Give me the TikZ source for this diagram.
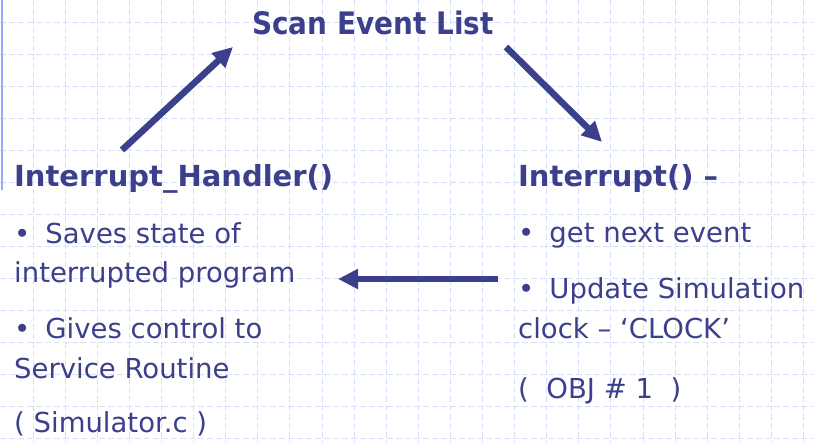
\documentclass[tikz,border=0pt]{standalone}
\usepackage{fontspec}
\setmainfont{DejaVu Sans}
\newfontfamily\titlefont[FakeStretch=0.9]{DejaVu Sans}
\usetikzlibrary{arrows.meta, positioning, calc}

\definecolor{inkblue}{RGB}{60,63,140}
\definecolor{gridblue}{RGB}{214,224,250}
\definecolor{edgeblue}{RGB}{150,170,245}

\begin{document}
\begin{tikzpicture}[
  x=1pt, y=-1pt,
  head/.style ={font=\fontsize{29}{34}\selectfont\bfseries, text=inkblue,
                inner sep=0pt, anchor=base west},
  body/.style ={font=\fontsize{27.5}{39.5}\selectfont, text=inkblue,
                inner sep=0pt, anchor=base west, align=left},
  % connector and background styles ---------------------------------
  flow/.style    ={draw=inkblue, line width=6.5pt,
                   -{Triangle[length=20pt, width=19pt]}},
  gridline/.style={draw=gridblue, line width=0.8pt, dash pattern=on 6pt off 3pt},
]

% =========================== BACKGROUND =============================
\fill[white] (0,0) rectangle (813,443);
\useasboundingbox (0,0) rectangle (813,443);
\foreach \gx in {0,...,24}
  \draw[gridline] ({33+32.1*\gx},0) -- ({33+32.1*\gx},443);
\foreach \gy in {0,...,13}
  \draw[gridline] (0,{22+32*\gy}) -- (813,{22+32*\gy});
\draw[edgeblue, line width=2pt] (1.5,0) -- (1.5,190);

% =========================== HEADINGS ===============================
\node[head, font=\titlefont\fontsize{31}{34}\selectfont\bfseries] (scan) at (252,35) {Scan Event List};
\node[head] (hnd)  at (14,187)  {Interrupt\_Handler()};
\node[head] (intr) at (518,187) {Interrupt() –};

% =========================== BULLETS ================================
% (multi-line nodes sit on the baseline of their last line)
\node[body] (hndA) at (14,283)  {•\hspace{15pt}Saves state of\\interrupted program};
\node[body] (hndB) at (14,378)  {•\hspace{15pt}Gives control to\\Service Routine};
\node[body] (hndC) at (14,432)  {( Simulator.c )};
\node[body] (intA) at (518,243) {•\hspace{15pt}get next event};
\node[body] (intB) at (518,338) {•\hspace{15pt}Update Simulation\\clock – ‘CLOCK’};
\node[body] (intC) at (518,398) {(\ \ OBJ \# 1\ \ )};

% =========================== CONNECTORS =============================
\coordinate (hndOut)  at (122,150);
\coordinate (scanIn)  at (233,47);
\coordinate (scanOut) at (506,47);
\coordinate (intrIn)  at (602,142);
\coordinate (intrOut) at (498,279);
\coordinate (hndIn)   at (338,279);

% handler -> scan list
\draw[flow] (hndOut) -- (scanIn);
% scan list -> interrupt
\draw[flow] (scanOut) -- (intrIn);
% interrupt -> handler
\draw[flow] (intrOut) -- (hndIn);

\end{tikzpicture}
\end{document}
